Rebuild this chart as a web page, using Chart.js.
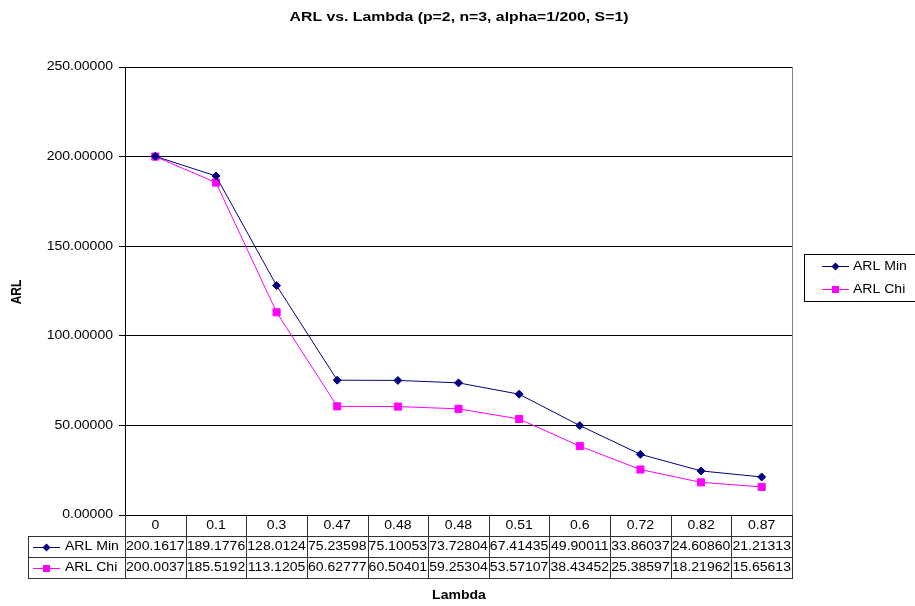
<!DOCTYPE html>
<html>
<head>
<meta charset="utf-8">
<title>ARL vs. Lambda</title>
<script src="https://cdn.jsdelivr.net/npm/chart.js@4/dist/chart.umd.min.js"></script>
<style>
  html, body { margin: 0; padding: 0; background: #fff; }
  #chart { display: block; }
</style>
</head>
<body>
<canvas id="chart" width="915" height="606"></canvas>
<script>
// Lambda values along the category axis
const lambdaLabels = ['0', '0.1', '0.3', '0.47', '0.48', '0.48', '0.51', '0.6', '0.72', '0.82', '0.87'];

// Average run length per lambda
const arlMin = [200.1617, 189.1776, 128.0124, 75.23598, 75.10053, 73.72804, 67.41435, 49.90011, 33.86037, 24.60860, 21.21313];
const arlChi = [200.0037, 185.5192, 113.1205, 60.62777, 60.50401, 59.25304, 53.57107, 38.43452, 25.38597, 18.21962, 15.65613];

const seriesNames = ['ARL Min', 'ARL Chi'];
const yTickValues = [0, 50, 100, 150, 200, 250];

const chartTitle = 'ARL vs. Lambda (p=2, n=3, alpha=1/200, S=1)';
const yTitle = 'ARL';
const xTitle = 'Lambda';

const NAVY = '#000080';
const MAGENTA = '#FF00FF';
const FONT = '"Liberation Sans", Arial, sans-serif';
const SX = 1.17; // wide text look

function drawText(ctx, str, x, y, font, align, sx) {
  ctx.save();
  ctx.translate(x, y);
  ctx.scale(sx, 1);
  ctx.font = font;
  ctx.textAlign = align;
  ctx.textBaseline = 'middle';
  ctx.fillStyle = '#000';
  ctx.fillText(str, 0, 0);
  ctx.restore();
}

function drawMarker(ctx, kind, x, y, color) {
  ctx.save();
  ctx.fillStyle = color;
  ctx.strokeStyle = color;
  ctx.beginPath();
  if (kind === 'diamond') {
    ctx.moveTo(x, y - 4);
    ctx.lineTo(x + 4, y);
    ctx.lineTo(x, y + 4);
    ctx.lineTo(x - 4, y);
    ctx.closePath();
  } else {
    ctx.rect(x - 3.5, y - 3.5, 7, 7);
  }
  ctx.fill();
  ctx.restore();
}

function legendSample(ctx, x1, x2, y, kind, color) {
  ctx.save();
  ctx.strokeStyle = color;
  ctx.lineWidth = 1;
  ctx.beginPath();
  ctx.moveTo(x1, y + 0.5);
  ctx.lineTo(x2, y + 0.5);
  ctx.stroke();
  ctx.restore();
  drawMarker(ctx, kind, (x1 + x2) / 2, y + 0.5, color);
}

const decorations = {
  id: 'decorations',
  afterDraw(chart) {
    const ctx = chart.ctx;
    const area = chart.chartArea;
    const xs = chart.scales.x;
    const ys = chart.scales.y;

    // right edge of the plot area
    ctx.save();
    ctx.strokeStyle = '#808080';
    ctx.lineWidth = 1;
    ctx.beginPath();
    ctx.moveTo(Math.round(area.right) + 0.5, area.top);
    ctx.lineTo(Math.round(area.right) + 0.5, area.bottom);
    ctx.stroke();
    ctx.restore();

    // value axis labels
    yTickValues.forEach(v => {
      drawText(ctx, v.toFixed(5), 113, ys.getPixelForValue(v), '12px ' + FONT, 'right', SX);
    });

    // title and axis titles
    drawText(ctx, chartTitle, 459, 17, 'bold 13.5px ' + FONT, 'center', SX);
    ctx.save();
    ctx.translate(17, 292);
    ctx.rotate(-Math.PI / 2);
    ctx.scale(1, SX);
    ctx.font = 'bold 12px ' + FONT;
    ctx.textAlign = 'center';
    ctx.textBaseline = 'middle';
    ctx.fillStyle = '#000';
    ctx.fillText(yTitle, 0, 0);
    ctx.restore();
    drawText(ctx, xTitle, 459, 596, 'bold 12px ' + FONT, 'center', SX);

    // data table under the plot
    const rowTop = area.bottom;
    const rowH = 21;
    const rows = [rowTop, rowTop + rowH, rowTop + 2 * rowH, rowTop + 3 * rowH];
    const left = area.left;
    const right = area.right;
    const headLeft = 28;
    const n = lambdaLabels.length;
    const bounds = [left];
    for (let i = 0; i < n - 1; i++) {
      bounds.push((xs.getPixelForValue(i) + xs.getPixelForValue(i + 1)) / 2);
    }
    bounds.push(right);

    ctx.save();
    ctx.strokeStyle = '#333';
    ctx.lineWidth = 1;
    ctx.beginPath();
    bounds.forEach(b => {
      const bx = Math.round(b) + 0.5;
      ctx.moveTo(bx, rows[0]);
      ctx.lineTo(bx, rows[3]);
    });
    [rows[1], rows[2], rows[3]].forEach(r => {
      const ry = Math.round(r) + 0.5;
      ctx.moveTo(headLeft, ry);
      ctx.lineTo(right + 1, ry);
    });
    ctx.moveTo(headLeft + 0.5, rows[1]);
    ctx.lineTo(headLeft + 0.5, rows[3]);
    ctx.stroke();
    ctx.restore();

    const cellFont = '12px ' + FONT;
    for (let i = 0; i < n; i++) {
      const cx = xs.getPixelForValue(i);
      drawText(ctx, lambdaLabels[i], cx, rows[0] + rowH / 2, cellFont, 'center', SX);
      drawText(ctx, arlMin[i].toPrecision(7), cx, rows[1] + rowH / 2, cellFont, 'center', SX);
      drawText(ctx, arlChi[i].toPrecision(7), cx, rows[2] + rowH / 2, cellFont, 'center', SX);
    }
    legendSample(ctx, 33, 60, Math.round(rows[1] + rowH / 2), 'diamond', NAVY);
    legendSample(ctx, 33, 60, Math.round(rows[2] + rowH / 2), 'square', MAGENTA);
    drawText(ctx, seriesNames[0], 65, rows[1] + rowH / 2, cellFont, 'left', SX);
    drawText(ctx, seriesNames[1], 65, rows[2] + rowH / 2, cellFont, 'left', SX);

    // legend box at the right
    ctx.save();
    ctx.strokeStyle = '#000';
    ctx.lineWidth = 1;
    ctx.strokeRect(804.5, 254.5, 130, 47);
    ctx.restore();
    legendSample(ctx, 822, 849, 266, 'diamond', NAVY);
    legendSample(ctx, 822, 849, 289, 'square', MAGENTA);
    drawText(ctx, seriesNames[0], 853, 266.5, cellFont, 'left', SX);
    drawText(ctx, seriesNames[1], 853, 289.5, cellFont, 'left', SX);
  }
};

new Chart(document.getElementById('chart'), {
  type: 'line',
  data: {
    labels: lambdaLabels,
    datasets: [
      {
        label: seriesNames[0],
        data: arlMin,
        borderColor: NAVY,
        backgroundColor: NAVY,
        borderWidth: 1,
        pointStyle: 'rectRot',
        pointRadius: 4,
        pointBorderWidth: 1,
        tension: 0
      },
      {
        label: seriesNames[1],
        data: arlChi,
        borderColor: MAGENTA,
        backgroundColor: MAGENTA,
        borderWidth: 1,
        pointStyle: 'rect',
        pointRadius: 5,
        pointBorderWidth: 1,
        tension: 0
      }
    ]
  },
  options: {
    responsive: false,
    animation: false,
    events: [],
    layout: { padding: { left: 0, top: 67, right: 123, bottom: 91 } },
    plugins: {
      legend: { display: false },
      title: { display: false },
      tooltip: { enabled: false }
    },
    scales: {
      x: {
        type: 'category',
        offset: true,
        display: false
      },
      y: {
        min: 0,
        max: 250,
        ticks: { stepSize: 50, display: false },
        grid: { color: '#000', lineWidth: 1, drawTicks: true, tickLength: 6 },
        border: { display: true, color: '#000', width: 1 },
        afterFit(scale) { scale.width = 125; }
      }
    }
  },
  plugins: [decorations]
});
</script>
</body>
</html>
